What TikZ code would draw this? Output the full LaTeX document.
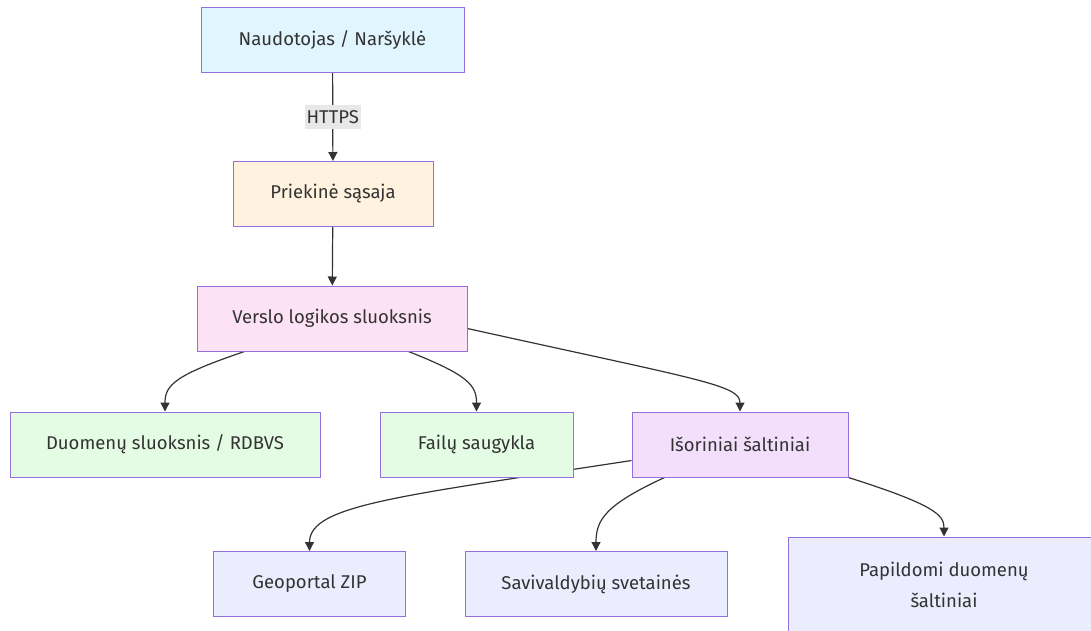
\documentclass[tikz,border=0pt]{standalone}
\usepackage{fontspec}
\setmainfont{Fira Sans}
\usetikzlibrary{arrows.meta,backgrounds}

\definecolor{boxline}{HTML}{9370DB}
\definecolor{inkgray}{HTML}{333333}
\definecolor{userfill}{HTML}{E1F5FE}
\definecolor{frontfill}{HTML}{FFF3E0}
\definecolor{logicfill}{HTML}{FDE2F5}
\definecolor{storefill}{HTML}{E3FCE3}
\definecolor{extfill}{HTML}{F3DFFC}
\definecolor{srcfill}{HTML}{ECECFF}
\definecolor{lblfill}{HTML}{E8E8E8}

\begin{document}
\begin{tikzpicture}[x=1pt, y=-1pt,
        box/.style={draw=boxline, line width=1pt, text=inkgray,
            minimum height=65pt, inner sep=0pt,
            font=\fontsize{18.5}{22}\selectfont},
        link/.style={draw=inkgray, line width=1.2pt,
            -{Triangle[length=9pt,width=9pt]}},
        lbl/.style={fill=lblfill, text=inkgray, inner xsep=2pt, inner ysep=5pt,
            font=\fontsize{18.5}{22}\selectfont}]
    \useasboundingbox (0,0) rectangle (1091,630);

        \node[box, fill=userfill, minimum width=263pt] (user) at (332.5, 40) {Naudotojas / Naršyklė};
        \node[box, fill=frontfill, minimum width=200pt] (front) at (333, 194) {Priekinė sąsaja};
        \node[box, fill=logicfill, minimum width=270pt] (logic) at (332, 318.5) {Verslo logikos sluoksnis};

        \node[box, fill=storefill, minimum width=310pt] (db) at (165, 444.5) {Duomenų sluoksnis / RDBVS};
        \node[box, fill=storefill, minimum width=193pt] (files) at (476.5, 444.5) {Failų saugykla};
        \node[box, fill=extfill, minimum width=216pt] (ext) at (740, 444.5) {Išoriniai šaltiniai};

        \node[box, fill=srcfill, minimum width=192pt] (geo) at (309.5, 584) {Geoportal ZIP};
        \node[box, fill=srcfill, minimum width=262pt] (muni) at (596, 584) {Savivaldybių svetainės};
        \node[box, fill=srcfill, minimum width=312pt, minimum height=95pt, align=center,
            font=\fontsize{18.5}{31}\selectfont] (extra) at (944, 584.5) {Papildomi duomenų\\šaltiniai};

    \begin{scope}[on background layer]
        \draw[link] (user) -- node[lbl] (https) {HTTPS} (front);
        \draw[link] (front) -- (logic);

        \draw[link] ([xshift=48pt]logic.south west) .. controls (175, 375) and (165, 385) .. (db.north);
        \draw[link] ([xshift=-59pt]logic.south east) .. controls (468, 375) and (476.5, 385) .. (files.north);
        \draw[link] ([yshift=-10pt]logic.east) .. controls (700, 380) and (740, 385) .. (ext.north);

        \draw[link] ([yshift=-16pt]ext.west) .. controls (400, 496) and (309.5, 505) .. (geo.north);
        \draw[link] ([xshift=33pt]ext.south west) .. controls (605, 505) and (596, 520) .. (muni.north);
        \draw[link] (ext.south east) .. controls (935, 505) and (944, 515) .. (extra.north);
    \end{scope}

    \end{tikzpicture}
\end{document}
